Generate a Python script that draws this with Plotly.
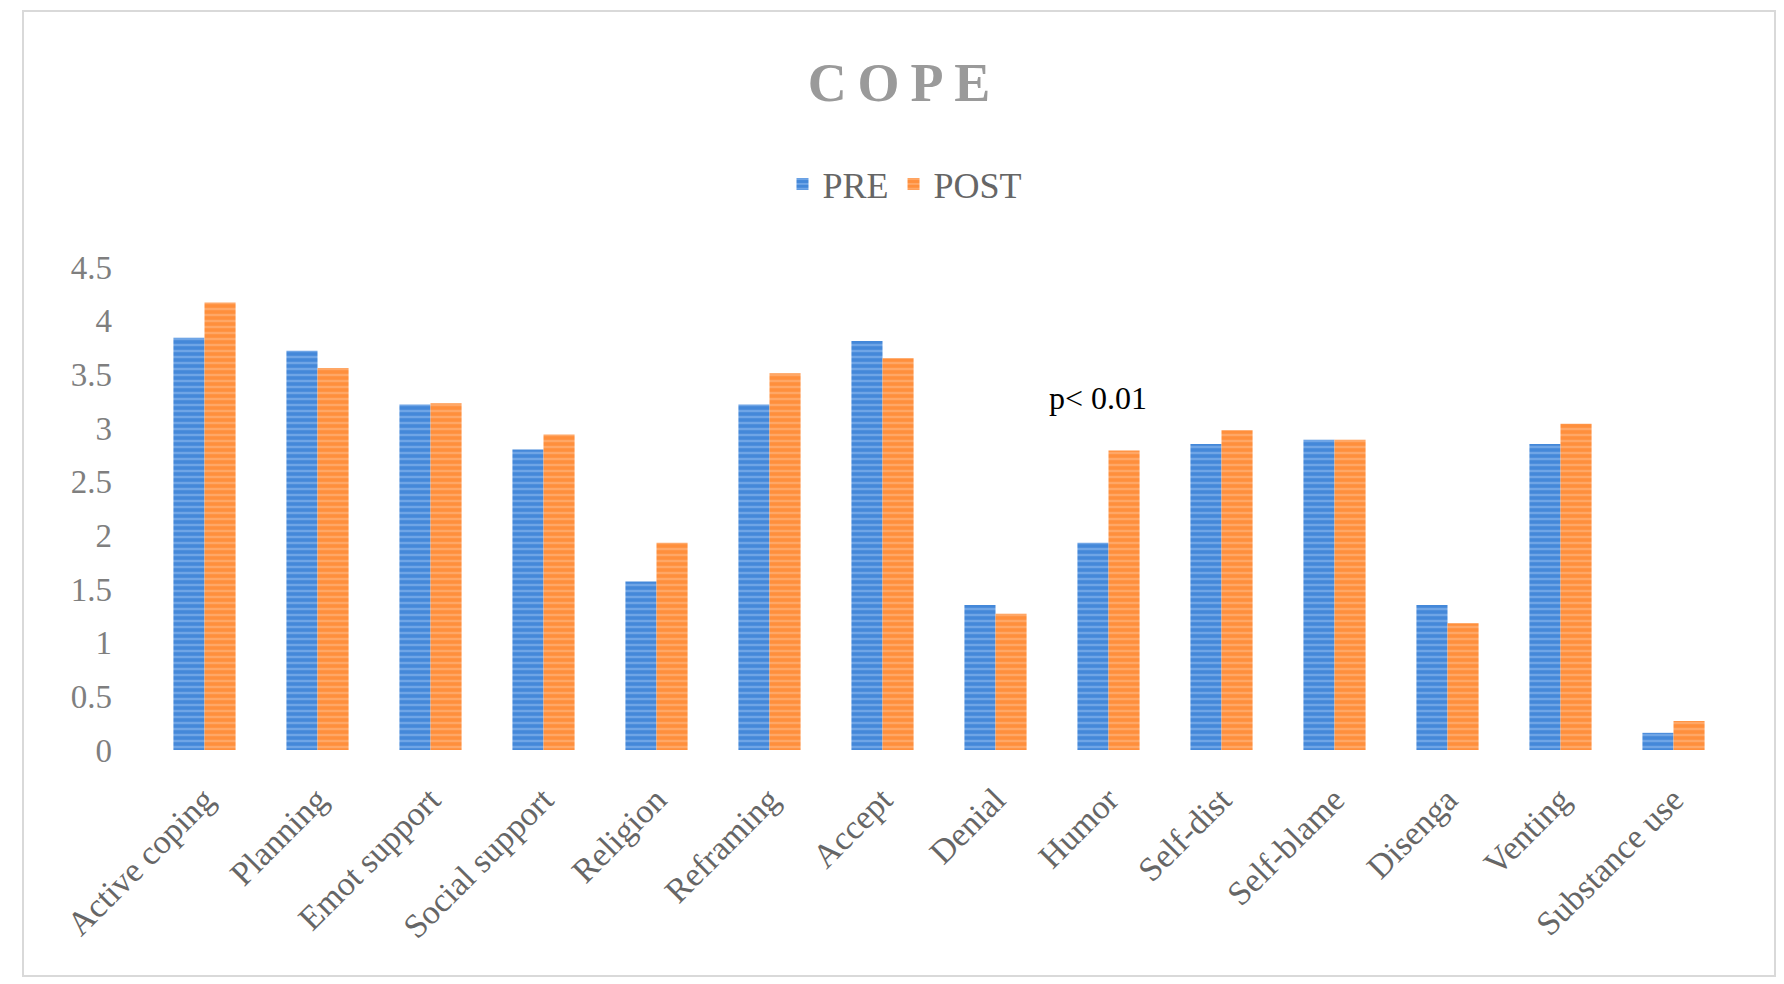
import plotly.graph_objects as go

categories = ["Active coping", "Planning", "Emot support", "Social support", "Religion",
              "Reframing", "Accept", "Denial", "Humor", "Self-dist", "Self-blame",
              "Disenga", "Venting", "Substance use"]
pre = [3.84, 3.72, 3.22, 2.80, 1.57, 3.22, 3.81, 1.35, 1.93, 2.85, 2.89, 1.35, 2.85, 0.16]
post = [4.17, 3.56, 3.23, 2.94, 1.93, 3.51, 3.65, 1.27, 2.79, 2.98, 2.89, 1.18, 3.04, 0.27]
y_ticks = [0, 0.5, 1, 1.5, 2, 2.5, 3, 3.5, 4, 4.5]
y_ticktext = ["0", "0.5", "1", "1.5", "2", "2.5", "3", "3.5", "4", "4.5"]

FONT = "Liberation Serif"
W, H = 1784, 984
L, R, T, B = 148, 54, 267, 234

fig = go.Figure()
fig.add_trace(go.Bar(
    x=categories, y=pre, name="PRE",
    marker=dict(color="#6fa5e6", line=dict(width=0),
                pattern=dict(shape="-", fgcolor="#1a6bcc", bgcolor="#6fa5e6",
                             size=6, solidity=0.6, fillmode="overlay")),
))
fig.add_trace(go.Bar(
    x=categories, y=post, name="POST",
    marker=dict(color="#ffa766", line=dict(width=0),
                pattern=dict(shape="-", fgcolor="#ff7712", bgcolor="#ffa766",
                             size=6, solidity=0.6, fillmode="overlay")),
))

pw = W - L - R
ph = H - T - B

fig.update_layout(
    width=W, height=H,
    margin=dict(l=L, r=R, t=T, b=B),
    paper_bgcolor="white", plot_bgcolor="white",
    barmode="group", bargap=0.45, bargroupgap=0,
    font=dict(family=FONT, color="#7f7f7f"),
    title=dict(text="C\u2009O\u2009P\u2009E", x=899 / W, xref="container", xanchor="center",
               y=1 - 82 / H, yref="container", yanchor="middle",
               font=dict(family=FONT, size=54, color="#9a9a9a", weight="bold")),
    legend=dict(orientation="h", x=(905 - L) / pw, xanchor="center",
                y=(H - B - 184) / ph, yanchor="middle",
                font=dict(family=FONT, size=36, color="#666666"),
                itemwidth=30, traceorder="normal"),
    xaxis=dict(tickangle=-45, tickfont=dict(family=FONT, size=34, color="#666666"),
               showgrid=False, showline=False, ticks="", zeroline=False,
               ticklabelstandoff=22),
    yaxis=dict(range=[0, 4.5], tickvals=y_ticks, ticktext=y_ticktext,
               tickfont=dict(family=FONT, size=33, color="#7f7f7f"),
               showgrid=False, showline=False, ticks="", zeroline=False,
               ticklabelstandoff=35),
    showlegend=True,
)

fig.add_annotation(text="p< 0.01", x=(1098 - L) / pw, xref="paper",
                   y=(H - B - 398) / ph, yref="paper", showarrow=False,
                   xanchor="center", yanchor="middle",
                   font=dict(family=FONT, size=32, color="#000000"))

fig.add_shape(type="rect", xref="paper", yref="paper",
              x0=(23 - L) / pw, x1=(1775 - L) / pw,
              y0=(H - B - 976) / ph, y1=(H - B - 11) / ph,
              line=dict(color="#d9d9d9", width=2), fillcolor="rgba(0,0,0,0)", layer="below")

fig.write_html("out.html", config={"displayModeBar": False},
               post_script="document.body.style.margin='0';")
